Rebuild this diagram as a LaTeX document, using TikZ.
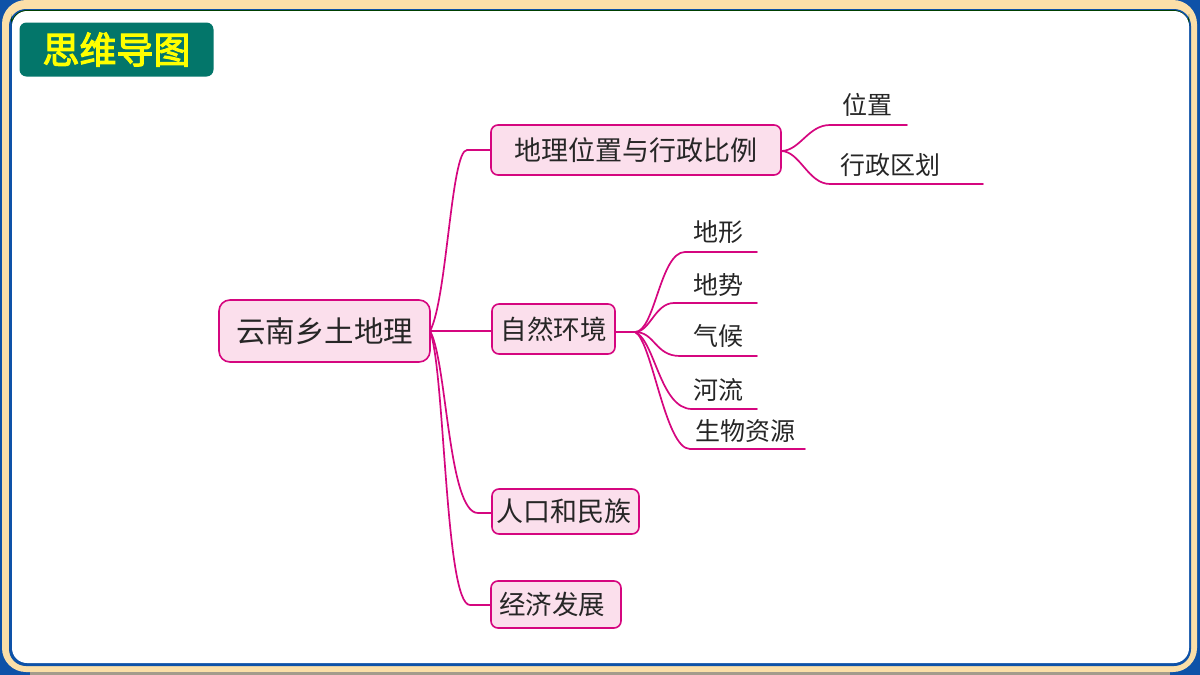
\documentclass[tikz,border=0pt]{standalone}
\usepackage{fontspec}
\setmainfont{Noto Sans CJK SC}
\newfontfamily\titlefont[FakeBold=3]{Noto Sans CJK SC}
\definecolor{linkc}{HTML}{D5067F}
\definecolor{boxfill}{HTML}{FBDFEC}
\definecolor{framec}{HTML}{FBDFA8}
\definecolor{blueback}{HTML}{0E52A8}
\definecolor{titlebg}{HTML}{03766A}
\definecolor{titletx}{HTML}{FFFF00}
\definecolor{inkc}{HTML}{262626}
\tikzset{
 topicbox/.style={draw=linkc,line width=1.6pt,fill=boxfill,rounded corners=7pt,inner sep=0pt,text=inkc,align=center},
 leaftext/.style={inner sep=0pt,text=inkc,font=\fontsize{25}{29}\selectfont},
 linkline/.style={draw=linkc,line width=1.7pt,line cap=round},
}
\begin{document}
\begin{tikzpicture}[x=1pt,y=-1pt]
\useasboundingbox (0,0) rectangle (1200,675);
% frame
\fill[blueback] (0,0) rectangle (1200,675);
\fill[framec,rounded corners=24pt] (2,0) rectangle (1197,672);
\fill[gray!70!framec] (30,672) rectangle (1170,675);
\fill[blueback,rounded corners=17pt] (9,9) rectangle (1191,666);
\fill[black!75!green,rounded corners=16pt] (11,10) rectangle (1189,30);
\fill[white,rounded corners=15pt] (12,11) rectangle (1189,663);
% title
\node[fill=titlebg,rounded corners=7pt,minimum width=194pt,minimum height=54pt,inner sep=0pt,text=titletx,font=\fontsize{37}{41}\titlefont] (title) at (116.5,49.5) {思维导图};
% topics
\node[topicbox,minimum width=211pt,minimum height=62pt,rounded corners=11pt,font=\fontsize{29.5}{33}\selectfont] (root) at (324.5,331) {云南乡土地理};
\node[topicbox,minimum width=290pt,minimum height=50pt,font=\fontsize{27}{31}\selectfont] (geo) at (636,150) {地理位置与行政比例};
\node[topicbox,minimum width=123pt,minimum height=50pt,font=\fontsize{26.5}{30}\selectfont] (nature) at (553.5,329) {自然环境};
\node[topicbox,minimum width=147pt,minimum height=45pt,font=\fontsize{27}{30}\selectfont] (people) at (565.5,511.5) {人口和民族\hspace*{3pt}};
\node[topicbox,minimum width=130pt,minimum height=47pt,font=\fontsize{26.5}{30}\selectfont] (econ) at (556,604.5) {经济发展\hspace*{8pt}};
% root links
\coordinate (rh) at (430,331);
\draw[linkline] (rh) .. controls (447,300) and (451,150) .. (467,150) -- (geo.west);
\draw[linkline] (rh) -- (nature.west |- rh);
\draw[linkline] (rh) .. controls (447,360) and (448,513) .. (478,513) -- (people.west |- 0,513);
\draw[linkline] (rh) .. controls (445,370) and (445,605) .. (470,605) -- (econ.west |- 0,605);
% geo leaves
\coordinate (gh) at (781,151);
\node[leaftext] (n1) at (867,105) {位置};
\node[leaftext] (n2) at (890.5,165) {行政区划};
\coordinate (n1a) at (830,125); \coordinate (n1b) at (907,125);
\coordinate (n2a) at (830,184); \coordinate (n2b) at (983,184);
\draw[linkline] (gh) .. controls (800,151) and (808,125) .. (n1a) -- (n1b);
\draw[linkline] (gh) .. controls (800,151) and (808,184) .. (n2a) -- (n2b);
% nature leaves
\coordinate (nh) at (635,332);
\draw[linkline] (nature.east |- nh) -- (nh);
\node[leaftext] (m1) at (718,232) {地形};
\node[leaftext] (m2) at (718,285) {地势};
\node[leaftext] (m3) at (718,336) {气候};
\node[leaftext] (m4) at (718,390) {河流};
\node[leaftext] (m5) at (745,431) {生物资源};
\coordinate (m1a) at (685,252); \coordinate (m1b) at (757,252);
\coordinate (m2a) at (674,303); \coordinate (m2b) at (757,303);
\coordinate (m3a) at (680,356); \coordinate (m3b) at (757,356);
\coordinate (m4a) at (692,409); \coordinate (m4b) at (757,409);
\coordinate (m5a) at (690,449); \coordinate (m5b) at (805,449);
\draw[linkline] (nh) .. controls (655,332) and (660,252) .. (m1a) -- (m1b);
\draw[linkline] (nh) .. controls (650,332) and (655,303) .. (m2a) -- (m2b);
\draw[linkline] (nh) .. controls (655,332) and (655,356) .. (m3a) -- (m3b);
\draw[linkline] (nh) .. controls (655,340) and (660,409) .. (m4a) -- (m4b);
\draw[linkline] (nh) .. controls (652,340) and (665,449) .. (m5a) -- (m5b);
\end{tikzpicture}
\end{document}
